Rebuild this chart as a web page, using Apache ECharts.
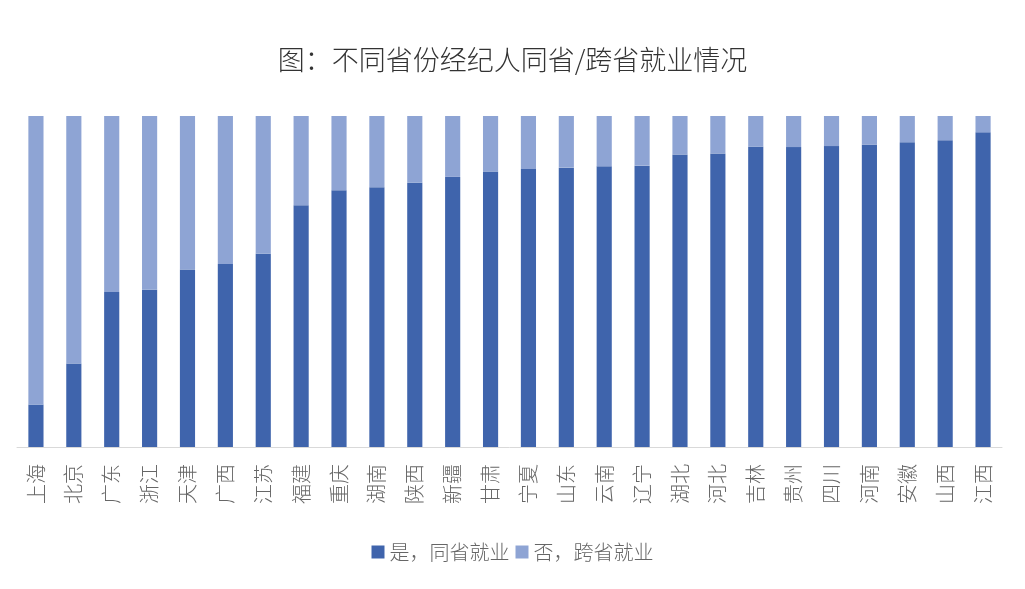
<!DOCTYPE html>
<html>
<head>
<meta charset="utf-8">
<title>不同省份经纪人同省/跨省就业情况</title>
<script src="https://cdn.jsdelivr.net/npm/echarts@6/dist/echarts.min.js"></script>
<style>
    html, body {margin: 0; padding: 0; background: #fff;}
    #chart {width: 1025px; height: 589px;}
</style>
</head>
<body>
<div id="chart"></div>
<script>
// 省份
var provinces = ['上海', '北京', '广东', '浙江', '天津', '广西', '江苏', '福建', '重庆', '湖南', '陕西', '新疆', '甘肃',
    '宁夏', '山东', '云南', '辽宁', '湖北', '河北', '吉林', '贵州', '四川', '河南', '安徽', '山西', '江西'];
// 是，同省就业（%）
var sameProvince = [12.8, 25.2, 46.8, 47.5, 53.6, 55.3, 58.4, 73.0, 77.6, 78.5, 79.8, 81.6, 83.2,
    84.0, 84.4, 84.8, 85.0, 88.4, 88.7, 90.7, 90.6, 90.9, 91.3, 92.1, 92.7, 95.1];
// 否，跨省就业（%）
var crossProvince = [87.2, 74.8, 53.2, 52.5, 46.4, 44.7, 41.6, 27.0, 22.4, 21.5, 20.2, 18.4, 16.8,
    16.0, 15.6, 15.2, 15.0, 11.6, 11.3, 9.3, 9.4, 9.1, 8.7, 7.9, 7.3, 4.9];

var font = '"Noto Sans CJK SC", "Noto Sans", sans-serif';
var myChart = echarts.init(document.getElementById('chart'));
var option = {
    animation: false,
    title: {
        text: '图：不同省份经纪人同省/跨省就业情况',
        left: 'center',
        top: 41,
        textStyle: {fontFamily: font, fontSize: 27, fontWeight: 300, color: '#333'}
    },
    legend: {
        bottom: 22,
        left: 'center',
        itemWidth: 13,
        itemHeight: 13,
        itemGap: 6,
        icon: 'rect',
        textStyle: {fontFamily: font, fontSize: 20, fontWeight: 300, color: '#666'},
        data: ['是，同省就业', '否，跨省就业']
    },
    grid: {left: 17, right: 23, top: 116, bottom: 142},
    xAxis: {
        type: 'category',
        data: provinces,
        axisLine: {lineStyle: {color: '#d9d9d9', width: 1}},
        axisTick: {show: false},
        axisLabel: {
            rotate: 90,
            margin: 17,
            interval: 0,
            fontFamily: font,
            fontSize: 20,
            fontWeight: 300,
            color: '#666'
        }
    },
    yAxis: {
        type: 'value',
        min: 0,
        max: 100,
        show: false,
        splitLine: {show: false}
    },
    series: [
        {
            name: '是，同省就业',
            type: 'bar',
            stack: 'total',
            barWidth: '40%',
            itemStyle: {color: '#3f64ac'},
            data: sameProvince
        },
        {
            name: '否，跨省就业',
            type: 'bar',
            stack: 'total',
            barWidth: '40%',
            itemStyle: {color: '#8ea4d4'},
            data: crossProvince
        }
    ]
};
myChart.setOption(option);
</script>
</body>
</html>
